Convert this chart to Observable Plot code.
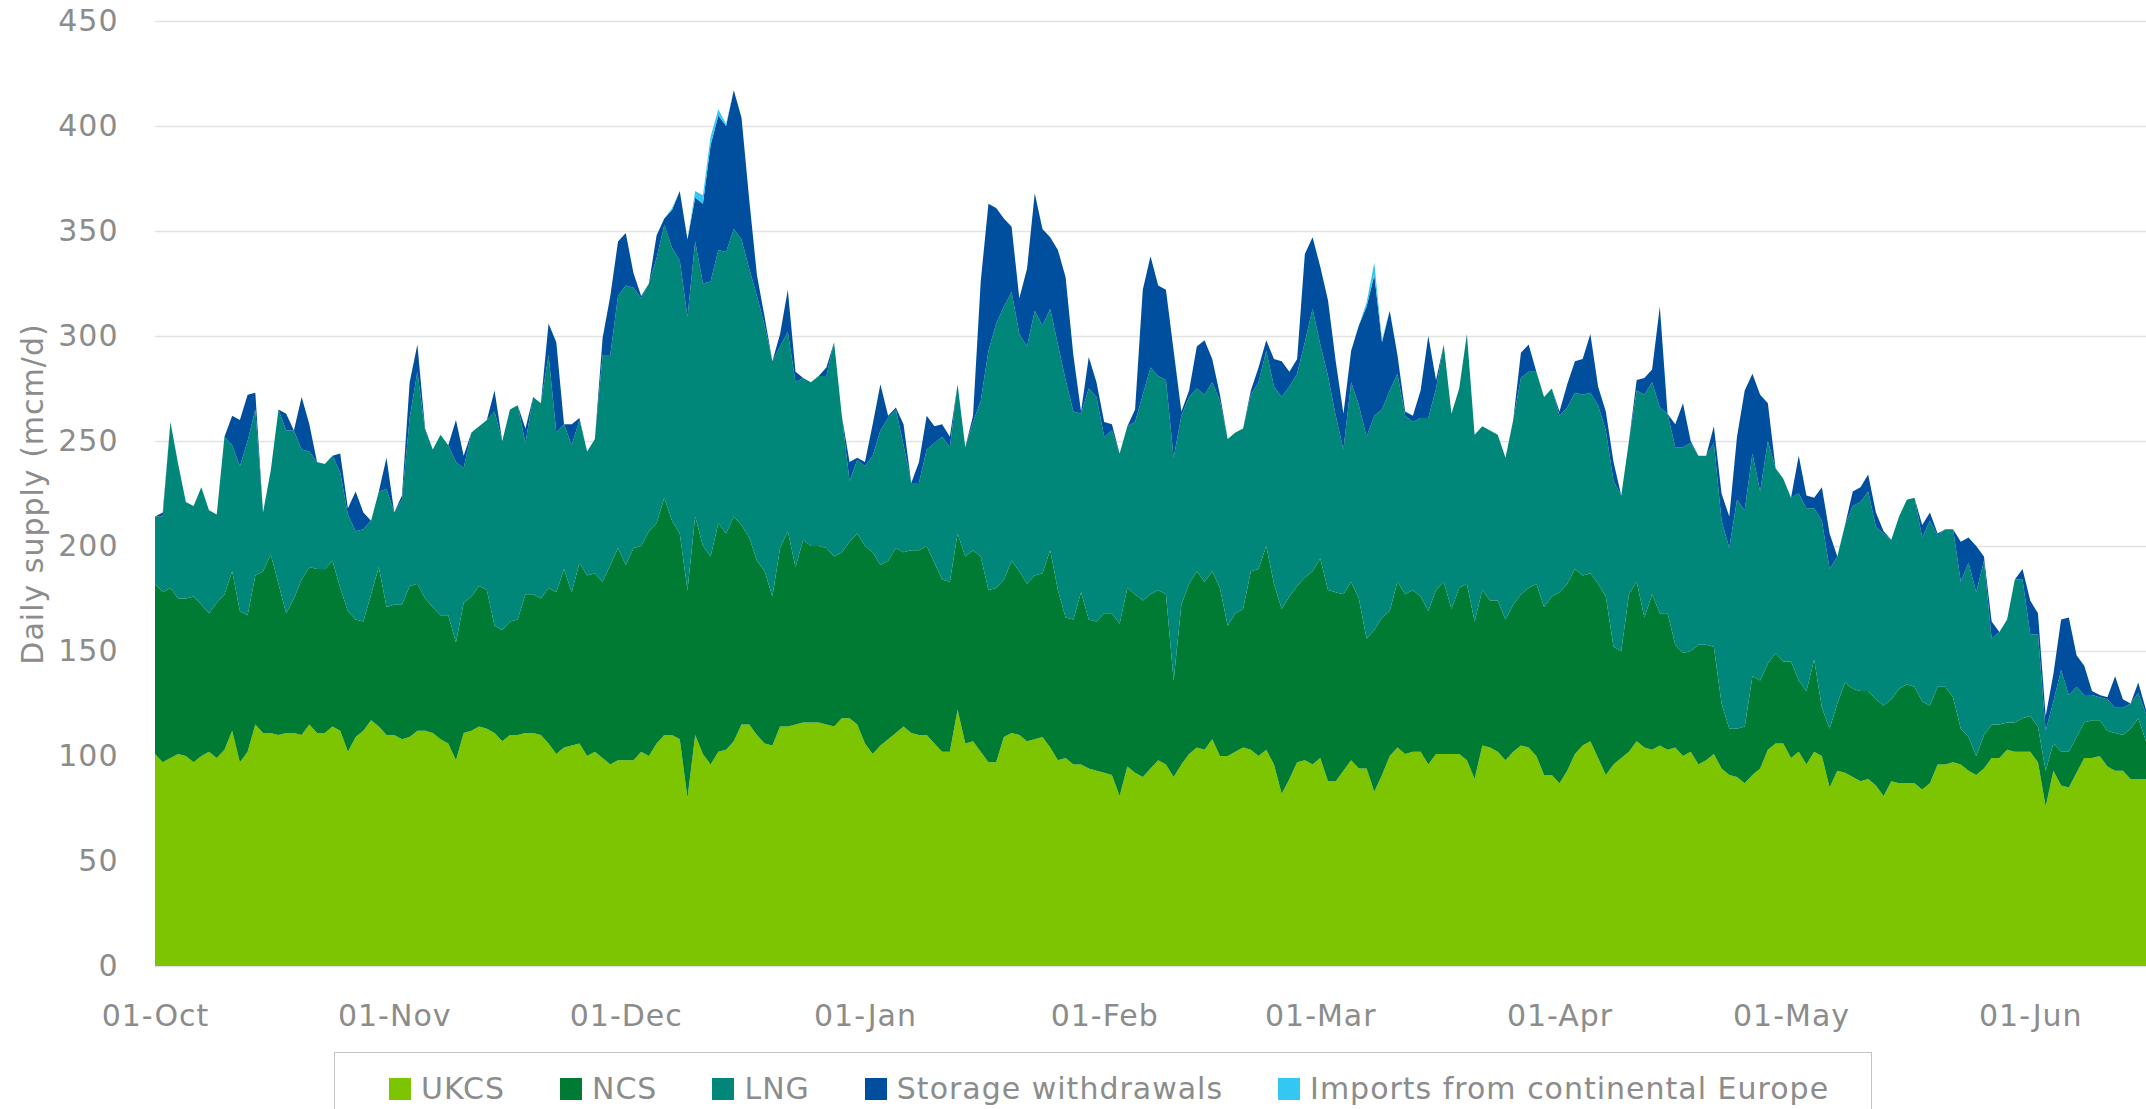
<!DOCTYPE html>
<html>
<head>
<meta charset="utf-8">
<script src="https://cdn.jsdelivr.net/npm/d3@7"></script>
<script src="https://cdn.jsdelivr.net/npm/@observablehq/plot@0.6"></script>
<style>
html, body { margin: 0; padding: 0; background: #fff; }
#wrap { position: relative; width: 2146px; height: 1109px; overflow: hidden; font-family: "DejaVu Sans", sans-serif; }
#legend { position: absolute; left: 334px; top: 1052px; width: 1538px; height: 90px; box-sizing: border-box;
  border: 1.5px solid #c4c4c4; display: flex; align-items: flex-start; padding-left: 54px; padding-top: 18px; gap: 55px; }
.item { display: flex; align-items: center; gap: 10px; font-size: 30px; letter-spacing: 1px; color: #8c8c8c; white-space: nowrap; }
.sw { width: 22px; height: 22px; flex: none; }
</style>
</head>
<body>
<div id="wrap"><div id="chart"></div><div id="legend"></div></div>
<script>
const startDate = "2022-10-01";
const seriesNames = ["UKCS", "NCS", "LNG", "Storage withdrawals", "Imports from continental Europe"];
const seriesColors = ["#7dc500", "#007b34", "#008779", "#004f9f", "#35c7f4"];
const yTicks = [0, 50, 100, 150, 200, 250, 300, 350, 400, 450];
const xTickLabels = ["2022-10-01", "2022-11-01", "2022-12-01", "2023-01-01", "2023-02-01", "2023-03-01", "2023-04-01", "2023-05-01", "2023-06-01"];
const yTitle = "Daily supply (mcm/d)";

const ukcs = [
101,97,99,101,100,97,100,102,99,103,112,97,102,115,111,111,110,111,111,110,115,111,111,114,112,102,109,112,117,114,110,110,108,109,112,112,111,108,106,98,111,112,114,113,111,
107,110,110,111,111,110,106,101,104,105,106,100,102,99,96,98,98,98,102,100,106,110,110,108,80,110,101,96,102,103,107,115,115,110,106,105,114,114,115,116,116,116,115,114,118,
118,115,106,101,105,108,111,114,111,110,110,106,102,102,122,106,107,102,97,97,109,111,110,107,108,109,104,98,99,96,96,94,93,92,91,81,95,92,90,94,98,96,90,96,
101,104,103,108,100,100,102,104,103,100,103,96,82,89,97,98,96,99,88,88,93,98,94,94,83,91,100,104,101,102,102,96,101,101,101,101,98,89,105,104,102,98,102,105,
104,100,91,91,87,93,101,105,107,99,91,96,99,102,107,104,103,105,103,104,100,102,96,98,101,94,91,90,87,91,94,103,106,106,99,102,96,102,100,85,93,92,90,88,
89,86,81,88,87,87,87,84,87,96,96,97,96,93,91,94,99,99,103,102,102,102,97,76,93,86,85,92,99,99,100,95,93,93,89,89,89
];
const ncs = [
81,81,81,74,75,79,72,66,74,74,76,72,65,71,77,85,72,57,64,74,75,78,78,79,68,67,56,52,60,76,61,62,64,72,70,63,60,59,61,56,62,64,67,66,51,
53,54,55,66,66,65,74,77,85,73,86,86,85,84,95,101,93,101,98,107,105,113,102,98,99,104,99,99,109,103,107,95,89,83,82,71,85,93,75,87,84,84,84,81,79,
84,91,94,96,86,85,88,83,87,88,90,86,82,81,84,89,91,93,82,83,75,82,78,75,78,78,94,81,67,69,82,71,71,76,77,82,85,85,84,83,81,81,46,76,
81,84,80,80,80,62,66,66,85,89,97,86,88,87,84,87,92,95,91,90,84,85,81,62,77,75,69,79,76,77,74,73,78,82,69,79,84,75,74,70,72,67,70,72,
76,82,80,85,91,89,88,81,80,83,85,56,51,75,76,62,74,63,65,49,49,48,57,55,51,31,22,23,27,47,42,41,43,39,46,34,35,44,23,28,32,43,42,43,
42,41,43,39,45,47,46,42,37,37,37,31,17,16,9,16,16,16,13,14,16,17,17,17,13,16,17,17,17,18,17,17,18,17,24,29,18
];
const lng = [
32,36,79,64,46,43,56,49,42,75,60,69,83,79,28,40,83,87,80,62,55,51,50,50,55,46,42,44,35,36,56,44,50,80,101,80,75,86,81,86,64,78,76,81,102,
90,101,102,72,94,93,111,76,69,70,68,59,64,108,100,120,133,124,118,118,126,130,130,130,130,131,125,131,130,134,137,136,128,126,117,112,96,95,88,77,78,81,82,102,65,
29,35,38,46,64,68,66,51,32,32,46,57,68,64,71,52,61,74,114,126,130,128,113,113,126,118,115,117,113,99,85,110,107,84,87,81,77,82,98,108,102,102,106,90,
89,87,89,90,89,89,86,86,84,89,93,94,101,100,101,112,125,102,102,84,69,95,92,96,102,99,105,99,85,80,85,92,96,113,93,95,119,89,78,81,79,77,88,103,
103,101,100,99,84,84,84,86,86,85,79,79,74,73,91,106,101,98,95,94,98,99,90,90,97,87,86,109,103,106,90,106,88,87,78,89,87,72,89,76,70,75,87,90,
95,82,82,76,82,88,90,78,88,72,75,80,70,83,78,83,41,44,49,68,66,39,44,19,20,39,27,24,13,12,11,15,12,13,12,12,13
];
const storage = [
0,2,0,0,0,0,0,0,0,0,14,22,22,8,0,0,0,8,0,25,13,0,0,0,9,3,19,8,0,0,15,0,2,17,13,1,0,0,0,20,6,0,0,0,10,
0,0,0,7,0,0,15,43,0,10,1,0,0,8,28,26,25,7,1,0,11,3,18,33,37,21,38,65,64,60,66,58,33,10,4,0,6,20,5,0,0,0,4,0,0,
9,1,2,15,22,1,1,10,0,10,16,8,6,5,0,0,3,57,70,55,42,31,17,37,56,46,34,45,49,27,1,15,7,7,3,0,0,6,50,53,43,43,51,2,
3,20,26,11,3,0,0,0,2,7,5,13,17,7,7,42,34,37,36,26,17,15,38,62,67,32,38,9,2,3,13,39,4,0,0,0,0,0,0,0,0,0,0,12,
13,0,0,0,2,11,15,17,28,9,9,9,0,0,5,8,6,48,0,11,21,1,0,0,8,13,15,30,57,38,46,18,0,0,0,18,6,5,16,17,0,0,7,7,
8,7,1,0,0,0,0,6,4,1,0,0,19,12,22,2,8,0,0,0,5,16,10,7,13,24,37,15,14,2,1,1,15,4,0,5,2
];
// Imports are zero except on these days (index from 01-Oct)
const importsDays = [67, 70, 71, 72, 73, 74, 157, 158, 159];
const importsValues = [1, 3, 4, 4, 3, 1, 2, 6, 1];

const n = ukcs.length;
const start = new Date(startDate);
const dates = d3.utcDay.range(start, d3.utcDay.offset(start, n));
const imports = new Array(n).fill(0);
importsDays.forEach((d, i) => { imports[d] = importsValues[i]; });

const seriesArrays = [ukcs, ncs, lng, storage, imports];
const table = [];
seriesNames.forEach((name, s) => {
  seriesArrays[s].forEach((v, i) => table.push({date: dates[i], series: name, value: v}));
});

const chart = Plot.plot({
  width: 2146,
  height: 1045,
  marginLeft: 155,
  marginRight: 0,
  marginTop: 21,
  marginBottom: 79,
  x: {type: "utc", domain: [dates[0], dates[n - 1]]},
  y: {domain: [0, 450]},
  color: {domain: seriesNames, range: seriesColors},
  style: {fontFamily: "'DejaVu Sans', sans-serif", fontSize: "30px", color: "#8c8c8c", background: "#fff", letterSpacing: "1px"},
  marks: [
    Plot.gridY(yTicks, {stroke: "#e2e2e2", strokeOpacity: 1, strokeWidth: 1.5}),
    Plot.areaY(table, {x: "date", y: "value", z: "series", fill: "series", order: seriesNames, curve: "linear"}),
    Plot.axisY(yTicks, {tickSize: 0, tickPadding: 37, label: null, fill: "#8c8c8c"}),
    Plot.axisX(xTickLabels.map(d => new Date(d)), {tickSize: 0, tickPadding: 38, label: null, fill: "#8c8c8c", tickFormat: d3.utcFormat("%d-%b")}),
    Plot.text([yTitle], {text: d => d, frameAnchor: "left", dx: -122, rotate: -90, textAnchor: "middle", lineAnchor: "middle", fontSize: 30, fill: "#8c8c8c"})
  ]
});
document.getElementById("chart").appendChild(chart);

const legend = document.getElementById("legend");
seriesNames.forEach((name, i) => {
  const item = document.createElement("div");
  item.className = "item";
  const sw = document.createElement("span");
  sw.className = "sw";
  sw.style.background = seriesColors[i];
  const label = document.createElement("span");
  label.textContent = name;
  item.appendChild(sw);
  item.appendChild(label);
  legend.appendChild(item);
});
</script>
</body>
</html>
